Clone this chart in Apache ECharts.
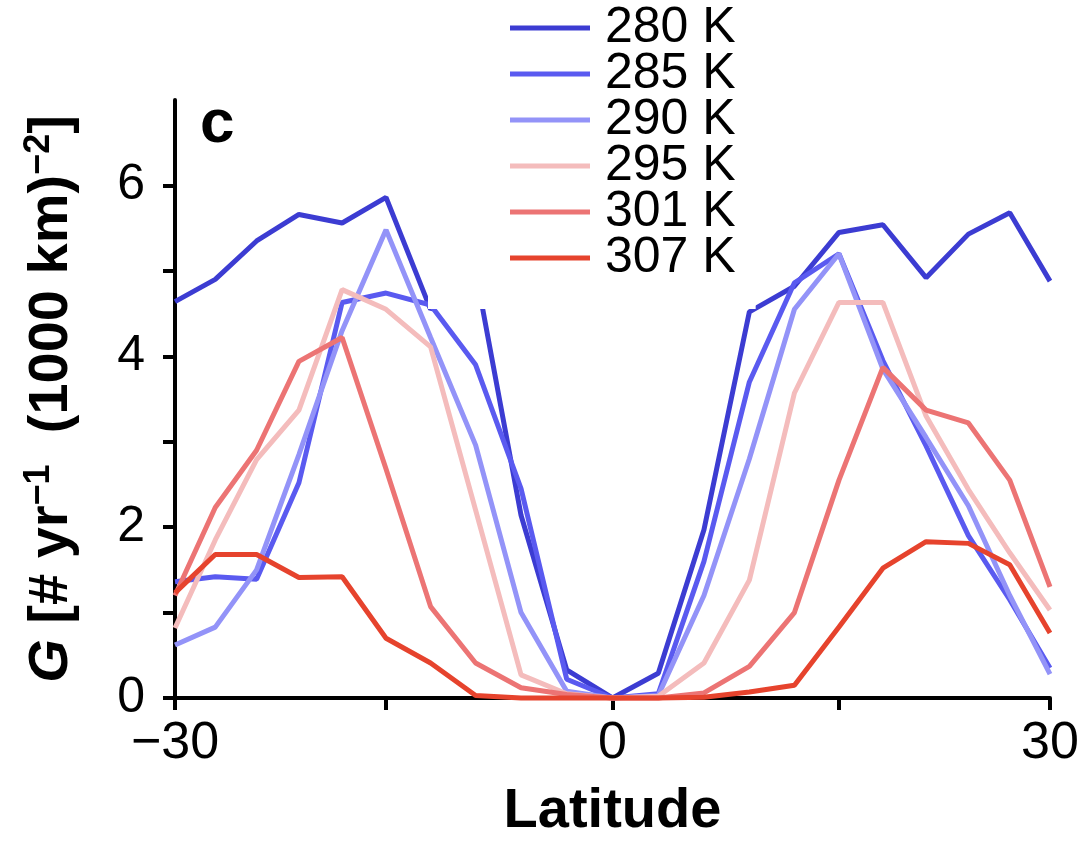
<!DOCTYPE html>
<html>
<head>
<meta charset="utf-8">
<script src="https://cdn.jsdelivr.net/npm/echarts@6/dist/echarts.min.js"></script>
<style>
html,body{margin:0;padding:0;background:#fff;}
#chart{width:1085px;height:855px;}
</style>
</head>
<body>
<div id="chart"></div>
<script>
// Latitude grid (degrees); x axis is linear in sin(latitude)
const latitudes = [-30,-27,-24,-21,-18,-15,-12,-9,-6,-3,0,3,6,9,12,15,18,21,24,27,30];
const seriesNames = ['280 K','285 K','290 K','295 K','301 K','307 K'];
const g280 = [4.64,4.90,5.35,5.66,5.56,5.86,4.55,5.00,2.14,0.33,0,0.29,1.97,4.52,4.82,5.45,5.54,4.92,5.43,5.68,4.88];
const g285 = [1.36,1.42,1.39,2.52,4.63,4.74,4.60,3.90,2.45,0.22,0,0.05,1.60,3.70,4.86,5.20,3.95,2.95,1.90,1.15,0.35];
const g290 = [0.62,0.83,1.50,2.85,4.30,5.48,4.22,2.96,1.00,0.08,0,0.03,1.20,2.80,4.55,5.20,3.85,3.05,2.25,1.20,0.28];
const g295 = [0.82,1.85,2.79,3.37,4.78,4.55,4.11,2.20,0.27,0.05,0,0.02,0.41,1.38,3.57,4.63,4.63,3.30,2.44,1.70,1.03];
const g301 = [1.20,2.23,2.90,3.94,4.22,2.68,1.07,0.41,0.12,0.04,0,0,0.06,0.37,1.00,2.55,3.87,3.37,3.22,2.55,1.30];
const g307 = [1.23,1.68,1.68,1.41,1.42,0.70,0.41,0.03,0,0,0,0,0.01,0.07,0.15,0.83,1.52,1.83,1.81,1.56,0.76];
const xTickLats = [-30,-15,0,15,30];
const xLabelLats = [-30,0,30];
const yTickValues = [0,1,2,3,4,5,6];
const yLabelValues = [0,2,4,6];

const colors = ['#3c3cd2','#5a5af0','#9393f8','#f4bcbc','#ec7474','#e6432d'];
const allData = [g280,g285,g290,g295,g301,g307];
const toS = d => Math.sin(d*Math.PI/180);
const font = "'Liberation Sans', Arial, Helvetica, sans-serif";

const chart = echarts.init(document.getElementById('chart'));
chart.setOption({
  animation:false,
  color:colors,
  textStyle:{fontFamily:font},
  grid:{left:175,right:35,top:100,bottom:157,containLabel:false},
  legend:{
    orient:'vertical', left:428, top:0,
    padding:[3,20,26,82],
    backgroundColor:'#ffffff',
    itemWidth:80, itemHeight:5, itemGap:-4,
    icon:'rect',
    data:seriesNames,
    textStyle:{fontSize:50,color:'#000',fontFamily:font,padding:[0,0,0,10]}
  },
  xAxis:{
    type:'value', min:-0.5, max:0.5,
    name:'Latitude', nameLocation:'middle', nameGap:86,
    nameTextStyle:{fontSize:56,fontWeight:'bold',color:'#000',fontFamily:font},
    axisLine:{show:true,onZero:false,lineStyle:{color:'#000',width:4}},
    axisTick:{show:true,length:12,lineStyle:{color:'#000',width:4},customValues:xTickLats.map(toS)},
    axisLabel:{fontSize:52,color:'#000',margin:20,fontFamily:font,
      customValues:xLabelLats.map(toS),
      formatter:v=>{const d=Math.round(Math.asin(Math.max(-1,Math.min(1,v)))*180/Math.PI);return d<0?'\u2212'+Math.abs(d):String(d);}},
    splitLine:{show:false}
  },
  yAxis:{
    type:'value', min:0, max:7, interval:1,
    name:'{gi|G}{b| [# yr}{sup|\u22121}{b|  (1000 km)}{sup|\u22122}{b|]}',
    nameLocation:'middle', nameRotate:90, nameGap:92,
    nameTextStyle:{
      color:'#000',fontFamily:font,
      rich:{
        gi:{fontSize:56,fontWeight:'bold',fontStyle:'italic',color:'#000',fontFamily:font,lineHeight:62},
        b:{fontSize:56,fontWeight:'bold',color:'#000',fontFamily:font,lineHeight:62},
        sup:{fontSize:36,fontWeight:'bold',color:'#000',fontFamily:font,verticalAlign:'top',lineHeight:36}
      }
    },
    axisLine:{show:true,onZero:false,lineStyle:{color:'#000',width:4}},
    axisTick:{show:true,length:12,lineStyle:{color:'#000',width:4},customValues:yTickValues},
    axisLabel:{fontSize:50,color:'#000',margin:30,fontFamily:font,customValues:yLabelValues},
    splitLine:{show:false}
  },
  graphic:[{
    type:'text', left:200, top:94,
    style:{text:'c',font:"bold 62px 'Liberation Sans', Arial, sans-serif",fill:'#000'}
  }],
  series:allData.map((arr,i)=>({
    name:seriesNames[i], type:'line', symbol:'none', showSymbol:false,
    data:latitudes.map((lat,j)=>[toS(lat),arr[j]]),
    lineStyle:{width:5,color:colors[i]},
    itemStyle:{color:colors[i]},
    clip:false
  }))
});
</script>
</body>
</html>
